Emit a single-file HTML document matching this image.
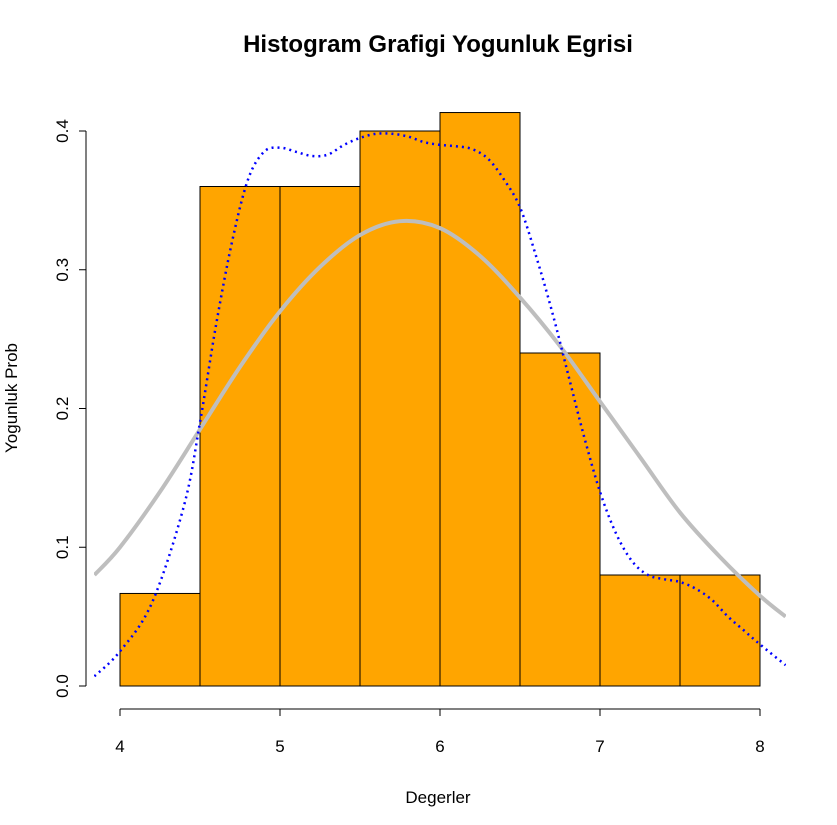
<!DOCTYPE html>
<html><head><meta charset="utf-8"><style>
body{margin:0;background:#fff;}
svg{display:block;font-family:"Liberation Sans",Arial,sans-serif;}
</style></head><body>
<svg id="chart" width="837" height="825" viewBox="0 0 837 825">
<defs><clipPath id="plotclip"><rect x="94" y="89" width="692" height="620"/></clipPath></defs>
<text x="438" y="52" text-anchor="middle" font-size="24" font-weight="bold">Histogram Grafigi Yogunluk Egrisi</text>
<text x="438" y="803" text-anchor="middle" font-size="17">Degerler</text>
<text transform="translate(17,398) rotate(-90)" text-anchor="middle" font-size="17">Yogunluk Prob</text>
<g id="bars"></g>
<g id="curves" clip-path="url(#plotclip)"></g>
<g id="axes"></g>
</svg>
<script>
const binEdges=[4,4.5,5,5.5,6,6.5,7,7.5,8];
const binDensity=[0.0667,0.36,0.36,0.4,0.4133,0.24,0.08,0.08];
const xTicks=[4,5,6,7,8];
const yTicks=[0,0.1,0.2,0.3,0.4];
const kdeX=[3.84,4.0,4.2,4.4,4.5,4.6,4.7,4.8,4.9,5.0,5.1,5.2,5.3,5.4,5.5,5.6,5.7,5.8,5.9,6.0,6.1,6.2,6.3,6.4,6.5,6.6,6.7,6.8,6.9,7.0,7.1,7.2,7.3,7.4,7.5,7.6,7.7,7.8,7.9,8.0,8.16];
const kdeY=[0.007,0.025,0.06,0.13,0.19,0.26,0.32,0.365,0.385,0.388,0.385,0.382,0.383,0.39,0.395,0.398,0.398,0.396,0.392,0.39,0.389,0.387,0.38,0.365,0.345,0.31,0.27,0.225,0.18,0.14,0.11,0.09,0.08,0.077,0.075,0.07,0.062,0.05,0.04,0.03,0.015];
const normX=[3.84,4.0,4.25,4.5,4.75,5.0,5.25,5.5,5.75,6.0,6.25,6.5,6.75,7.0,7.25,7.5,7.75,8.0,8.16];
const normY=[0.08,0.1,0.14,0.185,0.23,0.27,0.302,0.325,0.335,0.33,0.31,0.28,0.245,0.205,0.165,0.125,0.093,0.065,0.05];
const NS="http://www.w3.org/2000/svg";
const sx=v=>120+(v-4)*160;
const sy=v=>686-v*1387.5;
function mk(t,a,p){const e=document.createElementNS(NS,t);for(const k in a)e.setAttribute(k,a[k]);p.appendChild(e);return e;}
const bars=document.getElementById('bars');
binDensity.forEach((d,i)=>{
 const r=mk('rect',{x:sx(binEdges[i]),y:sy(d),width:sx(binEdges[i+1])-sx(binEdges[i]),height:sy(0)-sy(d),fill:'#FFA500',stroke:'#000','stroke-width':1},bars);
 
 
});
function smooth(xs,ys){
 const p=xs.map((x,i)=>[sx(x),sy(ys[i])]);
 let d='M'+p[0][0]+','+p[0][1];
 for(let i=0;i<p.length-1;i++){
  const p0=p[Math.max(i-1,0)],p1=p[i],p2=p[i+1],p3=p[Math.min(i+2,p.length-1)];
  const c1=[p1[0]+(p2[0]-p0[0])/6,p1[1]+(p2[1]-p0[1])/6];
  const c2=[p2[0]-(p3[0]-p1[0])/6,p2[1]-(p3[1]-p1[1])/6];
  d+=' C'+c1[0]+','+c1[1]+' '+c2[0]+','+c2[1]+' '+p2[0]+','+p2[1];
 }
 return d;
}
const curves=document.getElementById('curves');
const n=mk('path',{d:smooth(normX,normY),fill:'none',stroke:'#BEBEBE','stroke-width':4},curves);


const k=mk('path',{d:smooth(kdeX,kdeY),fill:'none',stroke:'#0000FF','stroke-width':2.5,'stroke-dasharray':'2,4'},curves);


const axes=document.getElementById('axes');
const xa=mk('line',{x1:sx(xTicks[0]),x2:sx(xTicks[xTicks.length-1]),y1:709,y2:709,stroke:'#000'},axes);


xTicks.forEach(t=>{
 mk('line',{x1:sx(t),x2:sx(t),y1:709,y2:716,stroke:'#000'},axes);
 const tx=mk('text',{x:sx(t),y:752,'text-anchor':'middle','font-size':17},axes);
 tx.textContent=t;
 
 
});
const ya=mk('line',{x1:86,x2:86,y1:sy(yTicks[0]),y2:sy(yTicks[yTicks.length-1]),stroke:'#000'},axes);


yTicks.forEach(t=>{
 mk('line',{x1:79,x2:86,y1:sy(t),y2:sy(t),stroke:'#000'},axes);
 const tx=mk('text',{transform:'translate(68,'+sy(t)+') rotate(-90)','text-anchor':'middle','font-size':17},axes);
 tx.textContent=t.toFixed(1);
 
 
});
</script>
</body></html>
